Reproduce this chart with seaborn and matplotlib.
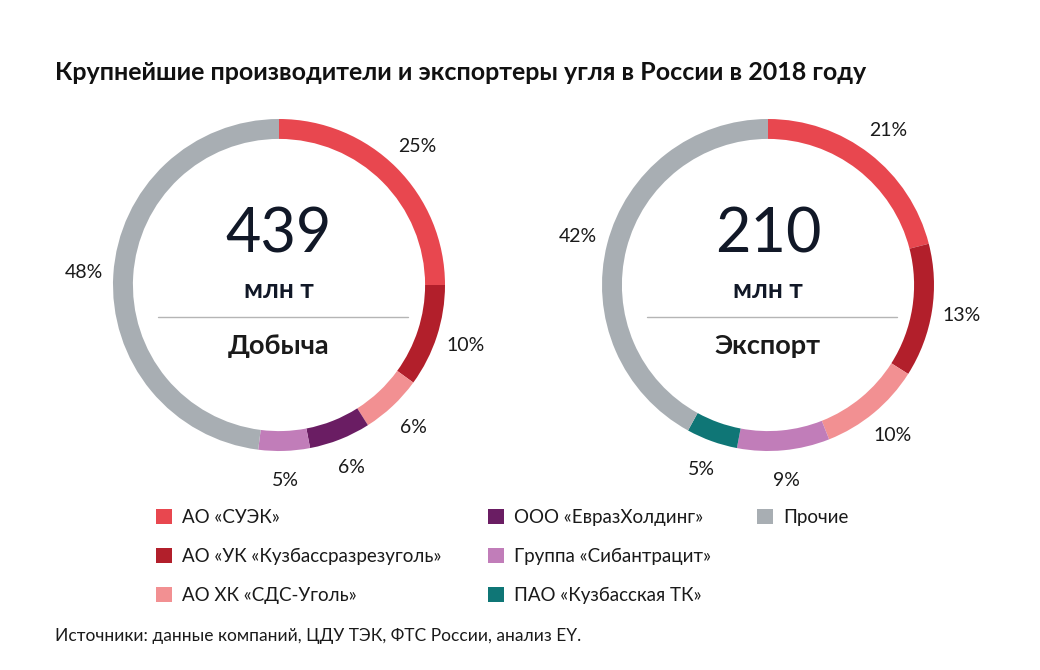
import matplotlib.pyplot as plt
import seaborn as sns
from matplotlib.patches import Patch

# data
production_labels = ["АО «СУЭК»", "АО «УК «Кузбассразрезуголь»", "АО ХК «СДС-Уголь»",
                     "ООО «ЕвразХолдинг»", "Группа «Сибантрацит»", "Прочие"]
production_values = [25, 10, 6, 6, 5, 48]

export_labels = ["АО «СУЭК»", "АО «УК «Кузбассразрезуголь»", "АО ХК «СДС-Уголь»",
                 "Группа «Сибантрацит»", "ПАО «Кузбасская ТК»", "Прочие"]
export_values = [21, 13, 10, 9, 5, 42]

totals = [439, 210]
captions = ["Добыча", "Экспорт"]

legend_order = ["АО «СУЭК»", "АО «УК «Кузбассразрезуголь»", "АО ХК «СДС-Уголь»",
                "ООО «ЕвразХолдинг»", "Группа «Сибантрацит»", "ПАО «Кузбасская ТК»", "Прочие"]
legend_colors = ["#E8474F", "#B21F2B", "#F29092", "#6A1D63", "#C17DB9", "#0F7676", "#A8AEB3"]
palette = dict(zip(legend_order, legend_colors))

sns.set_theme(style="white")
plt.rcParams["font.family"] = ["Lato", "DejaVu Sans"]
TXT = "#1a1a1a"


def draw_donut(ax, labels, values, total, caption):
    ax.pie(values, colors=[palette[l] for l in labels], startangle=90,
           counterclock=False, radius=1,
           wedgeprops=dict(width=0.12, edgecolor="none"),
           autopct=lambda p: f"{p:.0f}%", pctdistance=1.18,
           textprops=dict(fontsize=14, color=TXT))
    ax.text(0, 0.30, str(total), ha="center", va="center", fontsize=44, color="#111827")
    ax.text(0, -0.03, "млн т", ha="center", va="center", fontsize=19,
            fontweight="bold", color="#111827")
    ax.plot([-0.73, 0.78], [-0.19, -0.19], color="#b5b5b5", lw=1)
    ax.text(0, -0.37, caption, ha="center", va="center", fontsize=19.5,
            fontweight="bold", color=TXT)
    lim = 200 / 166
    ax.set_xlim(-lim, lim)
    ax.set_ylim(-lim, lim)
    ax.set_aspect("equal")
    ax.axis("off")


W, H = 1040, 670
fig = plt.figure(figsize=(W / 100, H / 100), dpi=100)
fig.patch.set_facecolor("white")

centers = [(279, 285), (768, 285)]
datasets = [(production_labels, production_values), (export_labels, export_values)]
for (cx, cy), (labs, vals), total, cap in zip(centers, datasets, totals, captions):
    ax = fig.add_axes([(cx - 200) / W, (H - cy - 200) / H, 400 / W, 400 / H])
    draw_donut(ax, labs, vals, total, cap)

fig.text(55 / W, 1 - 72 / H, "Крупнейшие производители и экспортеры угля в России в 2018 году",
         ha="left", va="center", fontsize=18, fontweight="bold", color="#111111")

handles = [Patch(facecolor=palette[l], edgecolor="none") for l in legend_order]
names = list(legend_order)
blank = Patch(facecolor="none", edgecolor="none")
handles += [blank, blank]
names += ["", ""]
leg = fig.legend(handles, names, loc="upper left", bbox_to_anchor=(156 / W, 1 - 509 / H),
                 ncol=3, frameon=False, borderpad=0, borderaxespad=0,
                 handlelength=0.85, handleheight=0.85, handletextpad=0.55,
                 labelspacing=1.17, columnspacing=2.45,
                 prop=dict(size=13.5))
for t in leg.get_texts():
    t.set_color(TXT)

fig.text(55 / W, 1 - 636 / H, "Источники: данные компаний, ЦДУ ТЭК, ФТС России, анализ EY.",
         ha="left", va="center", fontsize=12.5, color=TXT)

fig.savefig("out.png", dpi=100)
